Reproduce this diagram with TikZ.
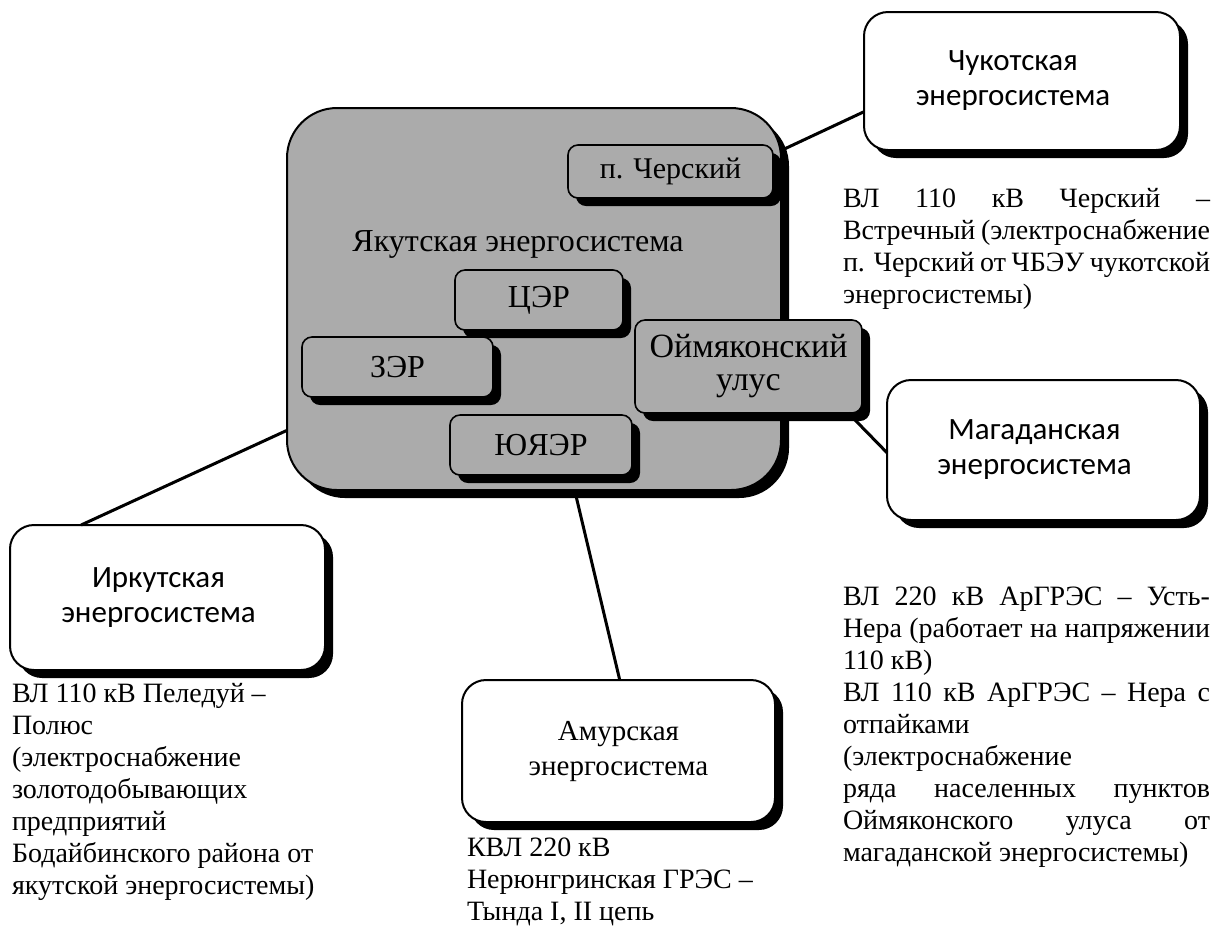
\documentclass[tikz,border=0pt]{standalone}
\usepackage{fontspec}
\setmainfont{Liberation Serif}
\newfontfamily\calibri{Carlito}
\usetikzlibrary{shadows}
\newcommand\justline[2]{\makebox[#1][s]{#2}}
\newcommand\lsh{\hspace*{-9pt}}
\begin{document}
\begin{tikzpicture}[x=0.5pt,y=-0.5pt,
  shad/.style={drop shadow={shadow xshift=4pt,shadow yshift=-4pt,opacity=1,fill=black}},
  sysbox/.style={draw=black,line width=1pt,fill=white,rounded corners=12pt,shad,inner sep=0pt,outer sep=0pt,align=center},
  sansbox/.style={sysbox,font=\calibri\fontsize{15.5}{17.5}\selectfont},
  serifbox/.style={sysbox,font=\fontsize{14.5}{17.5}\selectfont},
  yakbox/.style={draw=black,line width=1pt,fill=black!33,rounded corners=25pt,shad,inner sep=0pt,outer sep=0pt},
  subbox/.style={draw=black,line width=0.8pt,fill=black!33,rounded corners=5pt,shad,inner sep=0pt,outer sep=0pt,align=center,font=\fontsize{16}{16.5}\selectfont},
  notetext/.style={anchor=north west,inner sep=0pt,outer sep=0pt,align=left,font=\fontsize{14}{16}\selectfont},
  linkline/.style={line width=1.5pt}]
\useasboundingbox (0,0) rectangle (1221,934);

% main system
\node[yakbox,minimum width=247pt,minimum height=191pt] (yak) at (534,299) {};
\node[font=\fontsize{16}{18}\selectfont,inner sep=0pt] (title) at (518,244) {Якутская энергосистема};
\node[subbox,minimum width=102.5pt,minimum height=26.5pt,font=\fontsize{15}{16}\selectfont] (cher) at (670.5,171.5) {п. Черский};
\node[subbox,minimum width=84pt,minimum height=30pt] (cer) at (539,300) {ЦЭР};
\node[subbox,minimum width=95.5pt,minimum height=30pt] (zer) at (397.5,367) {ЗЭР};
\node[subbox,minimum width=91pt,minimum height=30pt] (yuyaer) at (541,445) {ЮЯЭР};
\node[subbox,minimum width=113.5pt,minimum height=46.5pt,font=\fontsize{17}{16.5}\selectfont] (oim) at (748.5,366.5) {Оймяконский\\улус};

% neighbouring systems
\node[sansbox,minimum width=158pt,minimum height=69pt] (chuk) at (1022,81) {\lsh Чукотская\\\lsh энергосистема};
\node[sansbox,minimum width=157.5pt,minimum height=72.5pt] (irk) at (167.5,597.5) {\lsh Иркутская\\\lsh энергосистема};
\node[serifbox,minimum width=156.5pt,minimum height=71pt] (amur) at (618.5,751) {Амурская\\энергосистема};
\node[sansbox,minimum width=156.5pt,minimum height=70pt] (mag) at (1043.5,450) {\lsh Магаданская\\\lsh энергосистема};

% connectors
\draw[linkline] (yak.31.8) -- (chuk.191.1);
\draw[linkline] (yak.208.5) -- (irk.140.2);
\draw[linkline] (yak.282.7) -- (amur.89);
\draw[linkline] (oim.335) -- (mag.181);

% notes
\node[notetext] (chuknote) at (843,188) {%
\justline{183.5pt}{ВЛ 110 кВ Черский –}\\
\justline{183.5pt}{Встречный (электроснабжение}\\
\justline{183.5pt}{п. Черский от ЧБЭУ чукотской}\\
энергосистемы)};

\node[notetext] (magnote) at (843,587) {%
\justline{183.5pt}{ВЛ 220 кВ АрГРЭС – Усть-}\\
\justline{183.5pt}{Нера (работает на напряжении}\\
110 кВ)\\
\justline{183.5pt}{ВЛ 110 кВ АрГРЭС – Нера с}\\
отпайками\\
(электроснабжение\\
\justline{183.5pt}{ряда населенных пунктов}\\
\justline{183.5pt}{Оймяконского улуса от}\\
магаданской энергосистемы)};

\node[notetext] (irknote) at (12,683) {%
ВЛ 110 кВ Пеледуй –\\
Полюс\\
(электроснабжение\\
золотодобывающих\\
предприятий\\
Бодайбинского района от\\
якутской энергосистемы)};

\node[notetext] (amurnote) at (467,838) {%
КВЛ 220 кВ\\
Нерюнгринская ГРЭС –\\
Тында I, II цепь};
\end{tikzpicture}
\end{document}
